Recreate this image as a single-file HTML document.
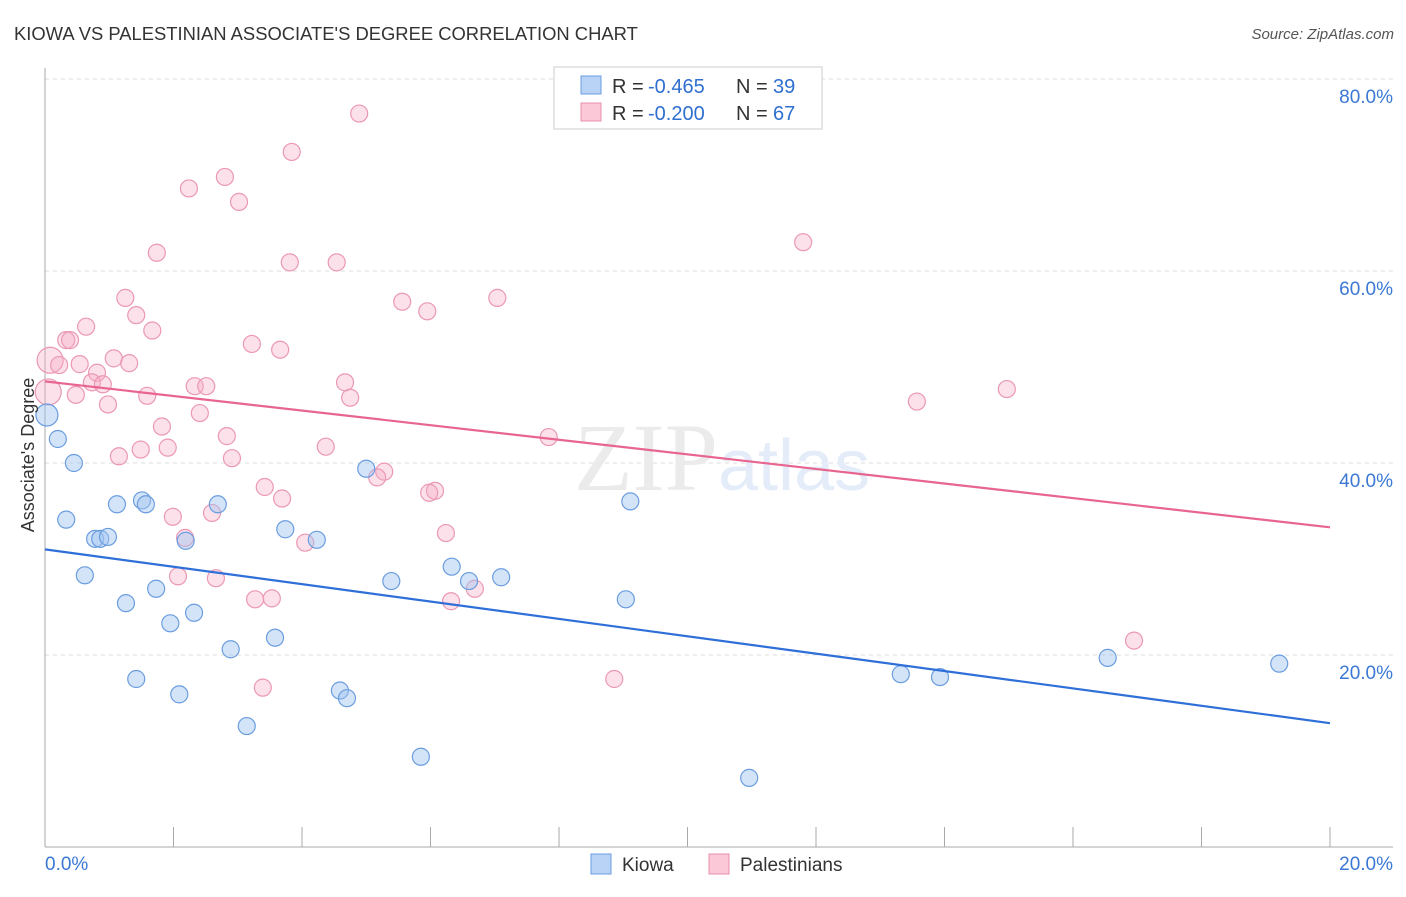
<!DOCTYPE html>
<html><head><meta charset="utf-8"><style>
body{margin:0;background:#fff;font-family:"Liberation Sans",sans-serif;}
</style></head><body>
<svg width="1406" height="892" viewBox="0 0 1406 892" xmlns="http://www.w3.org/2000/svg" font-family="Liberation Sans, sans-serif">
<text x="14" y="40" font-size="18.4" fill="#333">KIOWA VS PALESTINIAN ASSOCIATE'S DEGREE CORRELATION CHART</text>
<text x="1394" y="39" font-size="15" fill="#555" font-style="italic" text-anchor="end">Source: ZipAtlas.com</text>
<g id="grid"></g>
<text x="718" y="490" font-size="96" fill="#ebebeb" text-anchor="end" font-family="Liberation Serif, serif">ZIP</text>
<text x="718" y="490" font-size="72" fill="#e3ecf8">atlas</text>
<g id="axes"></g>
<g id="pts"></g>
<g id="lines"></g>
<text transform="translate(34,455) rotate(-90)" font-size="18" fill="#333" text-anchor="middle">Associate's Degree</text>
<g>
<rect x="554" y="67" width="268" height="62" fill="#fff" stroke="#ccc"/>
<rect x="581" y="76" width="20" height="18" fill="#b8d3f5" stroke="#6a9de0"/>
<rect x="581" y="103" width="20" height="18" fill="#fbc8d8" stroke="#e890ab"/>
<text x="612" y="93" font-size="20" fill="#333">R =</text>
<text x="648" y="93" font-size="20" fill="#2f6fd0">-0.465</text>
<text x="736" y="93" font-size="20" fill="#333">N =</text>
<text x="773" y="93" font-size="20" fill="#2f6fd0">39</text>
<text x="612" y="120" font-size="20" fill="#333">R =</text>
<text x="648" y="120" font-size="20" fill="#2f6fd0">-0.200</text>
<text x="736" y="120" font-size="20" fill="#333">N =</text>
<text x="773" y="120" font-size="20" fill="#2f6fd0">67</text>
</g>
<g>
<rect x="591" y="854" width="20" height="20" fill="#b8d3f5" stroke="#6a9de0"/>
<text x="622" y="871" font-size="19" fill="#333">Kiowa</text>
<rect x="709" y="854" width="20" height="20" fill="#fbc8d8" stroke="#e890ab"/>
<text x="740" y="871" font-size="19" fill="#333">Palestinians</text>
</g>
</svg>
<script>
const yTicks=[20,40,60,80];
const yTickLabels=["20.0%","40.0%","60.0%","80.0%"];
const xTickLabels=["0.0%","20.0%"];
const kiowaX=[0.03,0.20,0.45,0.33,0.78,0.86,0.98,0.62,1.12,1.51,1.57,1.26,1.73,1.95,2.19,2.32,2.69,2.89,1.42,2.09,3.14,3.58,3.74,4.23,4.59,4.70,5.00,5.39,5.85,6.33,6.60,7.10,9.04,9.11,10.96,13.32,13.93,16.54,19.21];
const kiowaY=[45.0,42.5,40.0,34.1,32.1,32.1,32.3,28.3,35.7,36.1,35.7,25.4,26.9,23.3,31.9,24.4,35.7,20.6,17.5,15.9,12.6,21.8,33.1,32.0,16.3,15.5,39.4,27.7,9.4,29.2,27.7,28.1,25.8,36.0,7.2,18.0,17.7,19.7,19.1];
const palX=[4.89,3.84,2.80,2.24,3.02,11.80,1.74,3.81,4.54,1.25,5.56,7.04,5.95,1.42,1.67,0.64,0.33,0.39,3.22,3.66,0.08,0.22,0.54,1.07,1.31,0.81,0.73,0.90,4.67,2.33,2.51,0.05,0.48,1.59,4.75,0.98,13.57,14.97,2.41,1.82,2.83,7.84,4.37,1.91,1.49,1.15,2.91,5.28,5.17,3.42,6.07,5.98,3.69,1.99,2.60,6.24,2.18,4.05,2.07,2.66,3.27,3.53,6.32,6.69,3.39,8.86,16.95];
const palY=[76.4,72.4,69.8,68.6,67.2,63.0,61.9,60.9,60.9,57.2,56.8,57.2,55.8,55.4,53.8,54.2,52.8,52.8,52.4,51.8,50.7,50.2,50.3,50.9,50.4,49.4,48.4,48.2,48.4,48.0,48.0,47.4,47.1,47.0,46.8,46.1,46.4,47.7,45.2,43.8,42.8,42.7,41.7,41.6,41.4,40.7,40.5,39.1,38.5,37.5,37.1,36.9,36.3,34.4,34.8,32.7,32.2,31.7,28.2,28.0,25.8,25.9,25.6,26.9,16.6,17.5,21.5];
const kiowaTrend=[31.0,12.9];
const palTrend=[48.5,33.3];
const NS="http://www.w3.org/2000/svg";
const X0=45,X1=1330,Y0=847,YS=9.6;
const sx=v=>X0+v/20*(X1-X0);
const sy=v=>Y0-v*YS;
function mk(tag,attrs,parent){const e=document.createElementNS(NS,tag);for(const k in attrs)e.setAttribute(k,attrs[k]);document.getElementById(parent).appendChild(e);return e;}
yTicks.forEach((t,i)=>{
  const l=mk('line',{x1:X0,x2:1393,y1:sy(t),y2:sy(t),stroke:'#ddd','stroke-dasharray':'4,4'},'grid');
  
  
  const tx=mk('text',{x:1393,y:sy(t)+24,'font-size':19,fill:'#3b78d6','text-anchor':'end'},'axes');
  tx.textContent=yTickLabels[i];
  
  
});
const ax=mk('line',{x1:X0,x2:1393,y1:Y0,y2:Y0,stroke:'#aaa'},'axes');


const ay=mk('line',{x1:X0,x2:X0,y1:68,y2:Y0,stroke:'#aaa'},'axes');


for(let i=0;i<=10;i++){
  const t=mk('line',{x1:sx(i*2),x2:sx(i*2),y1:Y0-20,y2:Y0,stroke:'#aaa'},'axes');
  
  
}
const xl0=mk('text',{x:45,y:870,'font-size':19,fill:'#3b78d6'},'axes');
xl0.textContent=xTickLabels[0];


const xl1=mk('text',{x:1393,y:870,'font-size':19,fill:'#3b78d6','text-anchor':'end'},'axes');
xl1.textContent=xTickLabels[1];


palX.forEach((x,i)=>{
  const big=x<0.1;
  const c=mk('circle',{cx:sx(x),cy:sy(palY[i]),r:big?13:8.5,fill:'rgba(246,170,196,0.35)',stroke:'#eb98b3','stroke-width':1.2},'pts');
  
  
});
kiowaX.forEach((x,i)=>{
  const c=mk('circle',{cx:sx(x),cy:sy(kiowaY[i]),r:x<0.1?11:8.5,fill:'rgba(160,196,240,0.45)',stroke:'#6a9de0','stroke-width':1.2},'pts');
  
  
});
const tb=mk('line',{x1:sx(0),x2:sx(20),y1:sy(kiowaTrend[0]),y2:sy(kiowaTrend[1]),stroke:'#2f6fd8','stroke-width':2.2},'lines');


const tp=mk('line',{x1:sx(0),x2:sx(20),y1:sy(palTrend[0]),y2:sy(palTrend[1]),stroke:'#e8658f','stroke-width':2.2},'lines');


</script>
</body></html>
